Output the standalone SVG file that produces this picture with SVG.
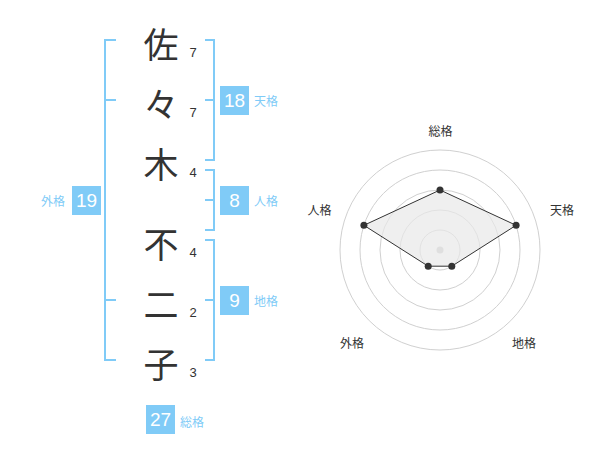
<svg xmlns="http://www.w3.org/2000/svg" width="600" height="470" viewBox="0 0 600 470">
<style>
.kanji{font-family:"Noto Sans CJK JP","Noto Sans CJK SC",sans-serif;font-size:35px;fill:#333;text-anchor:middle;dominant-baseline:central}
.num{font-family:"Liberation Sans",Arial,sans-serif;font-size:13px;fill:#333;text-anchor:middle;dominant-baseline:central}
.br{fill:none;stroke:#80cbf7;stroke-width:2}
.box{fill:#80cbf7}
.bt{font-family:"Liberation Sans",Arial,sans-serif;font-size:19px;fill:#fff;text-anchor:middle;dominant-baseline:central}
.lb{font-family:"Noto Sans CJK JP","Noto Sans CJK SC",sans-serif;font-size:12px;fill:#80cbf7;dominant-baseline:central}
.rl{font-family:"Noto Sans CJK JP","Noto Sans CJK SC",sans-serif;font-size:12px;fill:#333;text-anchor:middle;dominant-baseline:central}
.ring{fill:none;stroke:#d0d0d0;stroke-width:1}
.dot{fill:#333}
</style>
<g id="chars">
<text class="kanji" x="161" y="42">佐</text>
<text class="kanji" x="161" y="102">々</text>
<text class="kanji" x="161" y="162">木</text>
<text class="kanji" x="161" y="242">不</text>
<text class="kanji" x="161" y="302">二</text>
<text class="kanji" x="161" y="362">子</text>
<text class="num" x="193" y="52">7</text>
<text class="num" x="193" y="112">7</text>
<text class="num" x="193" y="172">4</text>
<text class="num" x="193" y="252">4</text>
<text class="num" x="193" y="312">2</text>
<text class="num" x="193" y="372">3</text>
</g>
<g id="connectors">
<path class="br" d="M116,40 H105 V360 H116 M105,100 H116 M105,300 H116"/>
<path class="br" d="M205,40 H214 V160 H205 M205,100 H214"/>
<path class="br" d="M205,170 H214 V230 H205 M205,200 H214"/>
<path class="br" d="M205,240 H214 V360 H205 M205,300 H214"/>
</g>
<g id="tenkaku">
<rect class="box" x="220" y="86" width="29" height="29"/>
<text class="bt" x="234.5" y="100.5">18</text>
<text class="lb" x="254" y="100.5">天格</text>
</g>
<g id="jinkaku">
<rect class="box" x="220" y="186" width="29" height="29"/>
<text class="bt" x="234.5" y="200.5">8</text>
<text class="lb" x="254" y="200.5">人格</text>
</g>
<g id="chikaku">
<rect class="box" x="220" y="286" width="29" height="29"/>
<text class="bt" x="234.5" y="300.5">9</text>
<text class="lb" x="254" y="300.5">地格</text>
</g>
<g id="gaikaku">
<rect class="box" x="72" y="186" width="29" height="29"/>
<text class="bt" x="86.5" y="200.5">19</text>
<text class="lb" x="41" y="200.5">外格</text>
</g>
<g id="soukaku">
<rect class="box" x="146" y="405" width="29" height="29"/>
<text class="bt" x="160.5" y="419.5">27</text>
<text class="lb" x="180" y="421">総格</text>
</g>
<g id="radar">
<circle class="ring" cx="440" cy="250" r="20"/>
<circle class="ring" cx="440" cy="250" r="40"/>
<circle class="ring" cx="440" cy="250" r="60"/>
<circle class="ring" cx="440" cy="250" r="80"/>
<circle class="ring" cx="440" cy="250" r="100"/>
<circle cx="440" cy="250" r="3.5" fill="#c8c8c8"/>
<polygon points="440,190 516.1,225.3 451.8,266.2 428.2,266.2 363.9,225.3" fill="#e8e8e8" fill-opacity="0.7" stroke="#333" stroke-width="1"/>
<circle class="dot" cx="440" cy="190" r="3.5"/>
<circle class="dot" cx="516.1" cy="225.3" r="3.5"/>
<circle class="dot" cx="451.8" cy="266.2" r="3.5"/>
<circle class="dot" cx="428.2" cy="266.2" r="3.5"/>
<circle class="dot" cx="363.9" cy="225.3" r="3.5"/>
<text class="rl" x="440.5" y="130.5">総格</text>
<text class="rl" x="562" y="209">天格</text>
<text class="rl" x="319.5" y="209">人格</text>
<text class="rl" x="352" y="342">外格</text>
<text class="rl" x="524" y="342">地格</text>
</g>
</svg>
